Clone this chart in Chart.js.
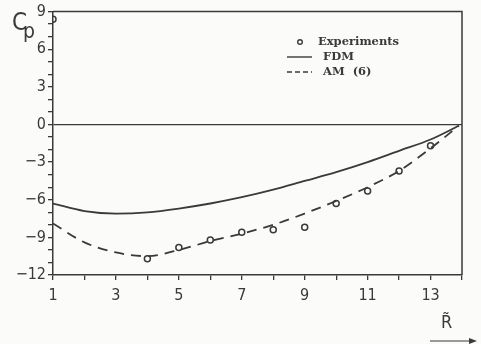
<!DOCTYPE html>
<html>
<head>
<meta charset="utf-8">
<script src="https://cdn.jsdelivr.net/npm/chart.js@4"></script>
<style>
  html, body { margin: 0; padding: 0; background: #fbfbf9; }
  #wrap { width: 481px; height: 344px; }
</style>
</head>
<body>
<div id="wrap"><canvas id="cpChart"></canvas></div>
<script>
// ---- data ----
const rValues = [1, 2, 3, 4, 5, 6, 7, 8, 9, 10, 11, 12, 13, 13.9];
const fdmValues = [-6.3, -6.9, -7.1, -7.0, -6.7, -6.3, -5.8, -5.2, -4.5, -3.8, -3.0, -2.1, -1.2, -0.1];
const amValues = [-7.9, -9.4, -10.2, -10.5, -10.0, -9.3, -8.7, -8.0, -7.1, -6.1, -5.0, -3.7, -1.9, -0.1];
const expR = [1, 4, 5, 6, 7, 8, 9, 10, 11, 12, 13];
const expValues = [8.4, -10.7, -9.8, -9.2, -8.6, -8.4, -8.2, -6.3, -5.3, -3.7, -1.7];
const xTickLabels = [1, 3, 5, 7, 9, 11, 13];
const yTickLabels = [9, 6, 3, 0, -3, -6, -9, -12];

const ink = '#3a3a3a';
const sansFont = '"DejaVu Sans Condensed", "DejaVu Sans", sans-serif';
const toPoints = (xs, ys) => xs.map((x, i) => ({ x: x, y: ys[i] }));

// frame, titles and legend drawn on top of the chart
const decorations = {
    id: 'decorations',
    afterDraw(chart) {
        const { ctx, chartArea: a } = chart;
        ctx.save();
        ctx.strokeStyle = ink;
        ctx.lineWidth = 1.5;
        ctx.beginPath();
        ctx.moveTo(a.left, a.top);
        ctx.lineTo(a.right, a.top);
        ctx.lineTo(a.right, a.bottom);
        ctx.stroke();

        // C_p
        ctx.fillStyle = ink;
        ctx.textBaseline = 'alphabetic';
        ctx.font = '24px ' + sansFont;
        ctx.fillText('C', 12, 30);
        ctx.font = '21px ' + sansFont;
        ctx.fillText('p', 23, 38);

        // R with arrow
        ctx.font = '18px ' + sansFont;
        ctx.fillText('R\u0303', 441, 328);
        ctx.lineWidth = 1.2;
        ctx.beginPath();
        ctx.moveTo(430, 341);
        ctx.lineTo(474, 341);
        ctx.stroke();
        ctx.beginPath();
        ctx.moveTo(477, 341);
        ctx.lineTo(469, 338);
        ctx.lineTo(469, 344);
        ctx.closePath();
        ctx.fill();

        // legend
        const lx = 287;
        ctx.font = 'bold 11.5px "DejaVu Serif", serif';
        ctx.textBaseline = 'middle';
        const rows = [
            { y: 42, type: 'point', label: chart.data.datasets[0].label },
            { y: 57, type: 'solid', label: chart.data.datasets[1].label },
            { y: 72, type: 'dash', label: chart.data.datasets[2].label },
        ];
        rows.forEach(r => {
            ctx.lineWidth = 1.4;
            if (r.type === 'point') {
                ctx.beginPath();
                ctx.arc(lx + 13, r.y, 2.3, 0, Math.PI * 2);
                ctx.stroke();
                ctx.fillText(r.label, lx + 31, r.y);
            } else {
                ctx.setLineDash(r.type === 'dash' ? [5, 3] : []);
                ctx.beginPath();
                ctx.moveTo(lx, r.y);
                ctx.lineTo(lx + 25, r.y);
                ctx.stroke();
                ctx.setLineDash([]);
                ctx.fillText(r.label, lx + 36, r.y);
            }
        });
        ctx.restore();
    },
};

new Chart(document.getElementById('cpChart').getContext('2d'), {
    type: 'scatter',
    data: {
        datasets: [
            {
                label: 'Experiments',
                data: toPoints(expR, expValues),
                showLine: false,
                pointStyle: 'circle',
                pointRadius: 3,
                pointBackgroundColor: 'rgba(0,0,0,0)',
                pointBorderColor: ink,
                pointBorderWidth: 1.5,
            },
            {
                label: 'FDM',
                data: toPoints(rValues, fdmValues),
                showLine: true,
                borderColor: ink,
                borderWidth: 1.8,
                pointRadius: 0,
                cubicInterpolationMode: 'monotone',
            },
            {
                label: 'AM  (6)',
                data: toPoints(rValues, amValues),
                showLine: true,
                borderColor: ink,
                borderWidth: 1.8,
                borderDash: [10, 7],
                pointRadius: 0,
                cubicInterpolationMode: 'monotone',
            },
        ],
    },
    options: {
        responsive: true,
        maintainAspectRatio: false,
        animation: false,
        layout: { padding: { top: 11, right: 19, left: 0, bottom: 0 } },
        plugins: {
            legend: { display: false },
            tooltip: { enabled: false },
        },
        scales: {
            x: {
                type: 'linear',
                min: 1,
                max: 14,
                afterFit: scale => { scale.height = 69; },
                border: { color: ink, width: 1.5 },
                grid: { drawOnChartArea: false, color: ink, tickLength: 5, lineWidth: 1.3 },
                ticks: {
                    stepSize: 1,
                    autoSkip: false,
                    maxRotation: 0,
                    padding: 6,
                    color: ink,
                    font: { size: 16, family: sansFont },
                    callback: v => xTickLabels.includes(v) ? String(v) : '',
                },
            },
            y: {
                min: -12,
                max: 9,
                afterFit: scale => { scale.width = 53; },
                border: { color: ink, width: 1.5 },
                grid: {
                    drawOnChartArea: true,
                    tickLength: 5,
                    lineWidth: 1.3,
                    tickColor: ink,
                    color: c => (c.tick && c.tick.value === 0) ? ink : 'rgba(0,0,0,0)',
                },
                ticks: {
                    stepSize: 1,
                    autoSkip: false,
                    padding: 2,
                    color: ink,
                    font: { size: 16, family: sansFont },
                    callback: v => yTickLabels.includes(v) ? String(v).replace('-', '\u2212') : '',
                },
            },
        },
    },
    plugins: [decorations],
});
</script>
</body>
</html>
